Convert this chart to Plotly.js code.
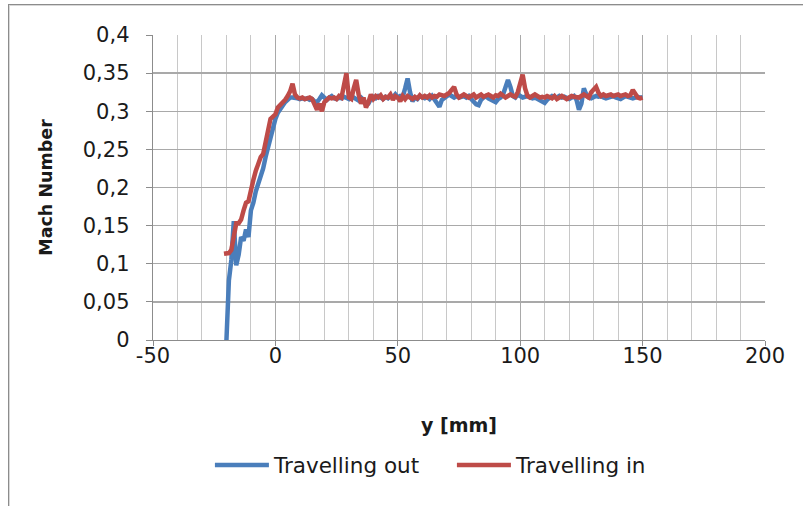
<!DOCTYPE html>
<html>
<head>
<meta charset="utf-8">
<script src="https://cdn.plot.ly/plotly-3.0.1.min.js"></script>
<style>
  html, body { margin: 0; padding: 0; background: #ffffff; }
  #wrap { position: relative; width: 803px; height: 506px; overflow: hidden; background: #ffffff; }
  #frame { position: absolute; left: 8px; top: 4px; width: 820px; height: 540px; border: 1px solid #8c8c8c; box-shadow: inset 1px 1px 0 #d8d8d8; pointer-events: none; z-index: 5; }
  #chart { position: absolute; left: 0; top: 0; width: 803px; height: 506px; }
</style>
</head>
<body>
<div id="wrap">
  <div id="chart"></div>
  <div id="frame"></div>
</div>
<script>
// Travelling out: x from -20 mm in steps of 1 mm
const outStart = -20;
const outStep = 1;
const travellingOut = [
  0, 0.078, 0.105, 0.156, 0.098, 0.112, 0.135, 0.13, 0.145, 0.135,
  0.17, 0.18, 0.195, 0.205, 0.215, 0.225, 0.24, 0.252, 0.265, 0.28,
  0.29, 0.298, 0.303, 0.308, 0.312, 0.315, 0.318, 0.318, 0.318, 0.317,
  0.316, 0.317, 0.316, 0.317, 0.315, 0.316, 0.313, 0.312, 0.316, 0.321,
  0.318, 0.315, 0.318, 0.32, 0.317, 0.316, 0.318, 0.317, 0.319, 0.318,
  0.316, 0.32, 0.318, 0.317, 0.314, 0.318, 0.315, 0.309, 0.31, 0.316,
  0.319, 0.317, 0.32, 0.318, 0.316, 0.319, 0.317, 0.32, 0.318, 0.322,
  0.318, 0.32, 0.319, 0.33, 0.343, 0.325, 0.313, 0.318, 0.316, 0.32,
  0.318, 0.317, 0.319, 0.316, 0.32, 0.315, 0.31, 0.306, 0.315, 0.318,
  0.32, 0.322, 0.32, 0.318, 0.32, 0.318, 0.319, 0.32, 0.318, 0.32,
  0.316, 0.312, 0.309, 0.308, 0.315, 0.318, 0.32, 0.317, 0.315, 0.313,
  0.312, 0.316, 0.318, 0.322, 0.33, 0.341, 0.332, 0.32, 0.318, 0.322,
  0.32, 0.318, 0.319, 0.32, 0.318, 0.317, 0.318, 0.316, 0.315, 0.312,
  0.311, 0.315, 0.318, 0.32, 0.319, 0.318, 0.32, 0.318, 0.319, 0.317,
  0.316, 0.318, 0.32, 0.315, 0.302, 0.31, 0.33, 0.322, 0.318, 0.317,
  0.318, 0.32, 0.319, 0.32, 0.318, 0.317, 0.318, 0.319, 0.32, 0.318,
  0.317, 0.316, 0.318, 0.32, 0.319, 0.318, 0.317, 0.318, 0.319, 0.318,
  0.318
];

// Travelling in: x from -21 mm in steps of 1 mm
const inStart = -21;
const inStep = 1;
const travellingIn = [
  0.113, 0.113, 0.114, 0.118, 0.135, 0.153, 0.153, 0.158, 0.17, 0.18,
  0.182, 0.2, 0.21, 0.222, 0.232, 0.24, 0.244, 0.258, 0.272, 0.29,
  0.293, 0.296, 0.305, 0.308, 0.312, 0.315, 0.32, 0.326, 0.336, 0.322,
  0.318, 0.317, 0.318, 0.316, 0.317, 0.318, 0.316, 0.309, 0.302, 0.31,
  0.3, 0.312, 0.316, 0.318, 0.317, 0.318, 0.316, 0.32, 0.318, 0.335,
  0.35, 0.318, 0.316, 0.33, 0.341, 0.322, 0.31, 0.318, 0.305, 0.312,
  0.322, 0.316, 0.32, 0.318, 0.321, 0.316, 0.319, 0.318, 0.322, 0.315,
  0.32, 0.318, 0.313, 0.32, 0.316, 0.32, 0.318, 0.316, 0.319, 0.317,
  0.321, 0.318, 0.32, 0.318, 0.321, 0.318, 0.32, 0.319, 0.322, 0.321,
  0.32, 0.322, 0.324, 0.328, 0.332, 0.322, 0.318, 0.32, 0.322, 0.32,
  0.318, 0.32, 0.322, 0.318, 0.32, 0.322, 0.319, 0.32, 0.322, 0.32,
  0.318, 0.321, 0.32, 0.323, 0.32, 0.318, 0.32, 0.322, 0.32, 0.319,
  0.325, 0.338, 0.348, 0.33, 0.32, 0.318, 0.32, 0.322, 0.32, 0.318,
  0.319, 0.318, 0.32, 0.318, 0.317, 0.32, 0.316, 0.318, 0.32, 0.318,
  0.316, 0.318, 0.32, 0.319, 0.318, 0.318, 0.32, 0.322, 0.32, 0.318,
  0.325, 0.328, 0.332, 0.324, 0.32, 0.322, 0.32, 0.321, 0.322, 0.32,
  0.321, 0.322, 0.32, 0.321, 0.322, 0.32, 0.321, 0.328, 0.322, 0.318,
  0.317, 0.318
];

const seriesNames = ['Travelling out', 'Travelling in'];
const xTickVals = [-50, 0, 50, 100, 150, 200];
const xTickText = ['-50', '0', '50', '100', '150', '200'];
const yTickVals = [0, 0.05, 0.1, 0.15, 0.2, 0.25, 0.3, 0.35, 0.4];
const yTickText = ['0', '0,05', '0,1', '0,15', '0,2', '0,25', '0,3', '0,35', '0,4'];
const xTitle = 'y [mm]';
const yTitle = 'Mach Number';

const font = '"DejaVu Sans", "Liberation Sans", sans-serif';
const txt = '#1a1a1a';

const traces = [
  {
    type: 'scatter', mode: 'lines', name: seriesNames[0],
    x0: outStart, dx: outStep, y: travellingOut,
    line: { color: '#4a7ebb', width: 4.5 }
  },
  {
    type: 'scatter', mode: 'lines', name: seriesNames[1],
    x0: inStart, dx: inStep, y: travellingIn,
    line: { color: '#be4b48', width: 4.5 }
  }
];

const layout = {
  width: 803, height: 506,
  margin: { l: 153, r: 38, t: 35, b: 166, pad: 0 },
  paper_bgcolor: '#ffffff', plot_bgcolor: '#ffffff',
  separators: ', ',
  font: { family: font, size: 21, color: txt },
  showlegend: true,
  legend: {
    orientation: 'h', x: 0.093, xanchor: 'left', y: -0.41, yanchor: 'middle',
    font: { family: font, size: 21.5, color: txt },
    itemwidth: 54, entrywidth: 173, entrywidthmode: 'pixels',
    traceorder: 'normal', bgcolor: 'rgba(0,0,0,0)'
  },
  xaxis: {
    range: [-50, 200], tickmode: 'array', tickvals: xTickVals, ticktext: xTickText,
    showgrid: true, gridcolor: '#a9a9a9', gridwidth: 1.3,
    minor: { dtick: 10, showgrid: true, gridcolor: '#c8c8c8', gridwidth: 1, ticks: '' },
    showline: true, linecolor: '#8c8c8c', linewidth: 1.3,
    ticks: 'outside', ticklen: 5, tickcolor: '#8c8c8c',
    ticklabelstandoff: -9,
    zeroline: false, mirror: false,
    tickfont: { family: font, size: 21, color: txt },
    title: { text: '<b>' + xTitle + '</b>', standoff: 52, font: { family: font, size: 19, color: txt } },
    automargin: false, fixedrange: true
  },
  yaxis: {
    range: [0, 0.4], tickmode: 'array', tickvals: yTickVals, ticktext: yTickText,
    showgrid: true, gridcolor: '#a9a9a9', gridwidth: 1.3,
    showline: true, linecolor: '#8c8c8c', linewidth: 1.3,
    ticks: 'outside', ticklen: 6, tickcolor: '#8c8c8c',
    ticklabelstandoff: 12,
    zeroline: false,
    tickfont: { family: font, size: 21, color: txt },
    title: { text: '<b>' + yTitle + '</b>', standoff: 25, font: { family: font, size: 17.5, color: txt } },
    automargin: false, fixedrange: true
  }
};

Plotly.newPlot('chart', traces, layout, { staticPlot: true, displayModeBar: false });
</script>
</body>
</html>
